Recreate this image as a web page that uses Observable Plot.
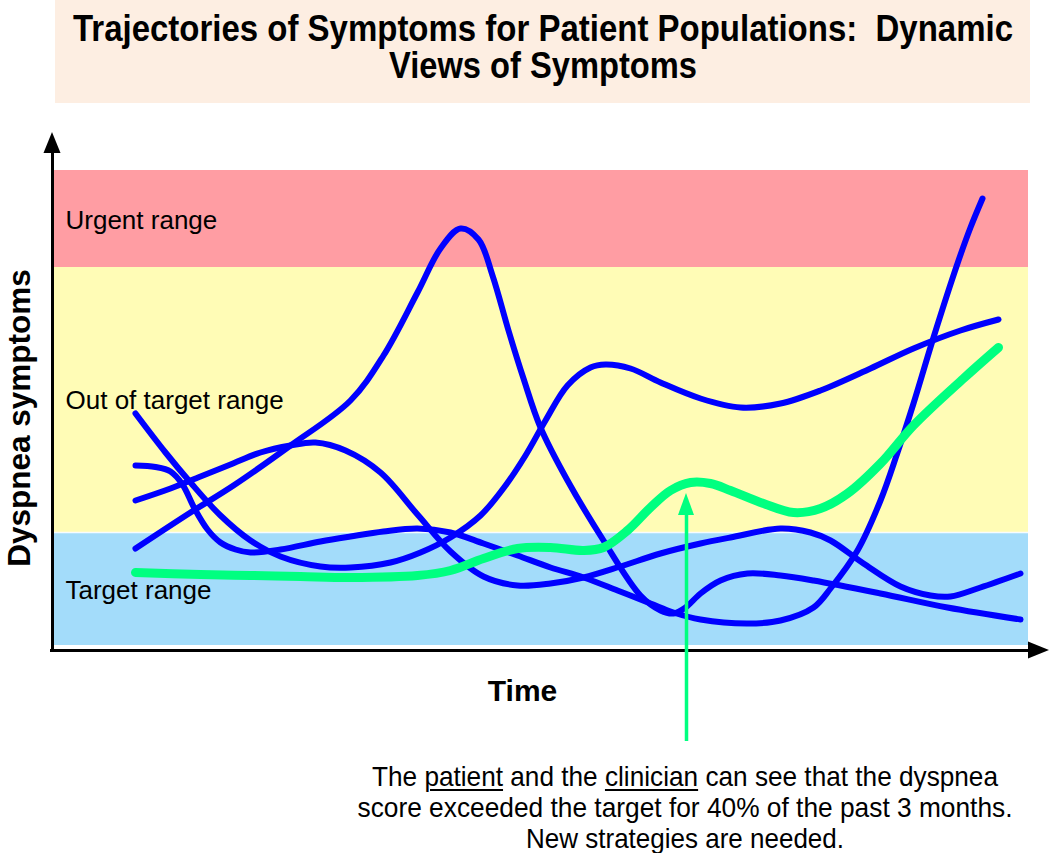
<!DOCTYPE html>
<html>
<head>
<meta charset="utf-8">
<script src="https://cdn.jsdelivr.net/npm/d3@7"></script>
<script src="https://cdn.jsdelivr.net/npm/@observablehq/plot@0.6"></script>
<style>
  html, body { margin: 0; padding: 0; background: #ffffff; }
  #wrap { position: relative; width: 1050px; height: 853px; overflow: hidden;
          font-family: "Liberation Sans", Arial, Helvetica, sans-serif; }
  #chart { position: absolute; left: 0; top: 0; }
  #titlebox { position: absolute; left: 55px; top: 0; width: 975px; height: 103px; background: #fdeee2; }
  .line { position: absolute; white-space: nowrap; display: inline-block; color: #000; }
  .title { font-weight: bold; font-size: 36px; line-height: 40px; }
  .cap { font-weight: normal; font-size: 28.5px; line-height: 32px; }
  u { text-decoration-thickness: 1.5px; text-underline-offset: 3px; }
</style>
</head>
<body>
<div id="wrap">
  <div id="chart"></div>
  <div id="titlebox"></div>
</div>
<script>
// ---------- data ----------
const titleLines = ["Trajectories of Symptoms for Patient Populations:\u00a0 Dynamic", "Views of Symptoms"];
const captionLines = [
  "The <u>patient</u> and the <u>clinician</u> can see that the dyspnea",
  "score exceeded the target for 40% of the past 3 months.",
  "New strategies are needed."
];

// symptom ranges (score units)
const bandName = ["Target range", "Out of target range", "Urgent range"];
const bandLow = [1, 23.6, 76.6];
const bandHigh = [23.6, 76.6, 96];
const bandFill = ["#a3dcfa", "#fffcb6", "#ff9da3"];
const bandLabelAt = [12, 50, 86];
const bandStart = 0.2, bandEnd = 97.6, bandLabelT = 1.3;

// axis extents
const axisTimeEnd = 97.6;
const axisScoreEnd = 99.4;

// blue patient trajectories: time, score
const aT = [8.3, 11.3, 13.8, 16.8, 19.8, 22.8, 26.8, 29.8, 33.8, 36.8, 39.8, 42.8, 45.3, 47.3, 49.3, 51.5, 53.8, 55.3, 57.8, 60.8, 64.8, 68.8, 72.8, 76.8, 81.8, 86.1, 90.8, 94.6];
const aV = [47.4, 39.6, 33.6, 27, 22, 18.8, 16.8, 16.6, 17.6, 19.6, 22.6, 27, 33, 39, 46, 53, 56.6, 57.2, 56.4, 53.6, 50.4, 48.6, 49.4, 52, 56.4, 60.4, 64, 66.2];

const pT = [8.3, 13.8, 18.1, 23.8, 29.8, 33.1, 36.5, 38.8, 40.8, 42.6, 44.0, 45.6, 47.1, 48.8, 51.5, 55.1, 58.8, 60.8, 62.1, 63.3, 64.8, 66.8, 69.5, 72.8, 76.1, 82.8, 89.5, 96.8];
const pV = [20.4, 27.6, 33, 41, 50, 59, 71.6, 80.4, 84.4, 82.2, 75, 64, 54.4, 44.6, 34, 22, 11, 8, 7.4, 8.6, 11.4, 14, 15.4, 15, 14, 11.4, 8.6, 6.2];

const bT = [8.3, 10.3, 11.8, 13.0, 14.2, 15.5, 16.8, 18.3, 19.8, 22.8, 26.8, 29.8, 33.1, 36.5, 39.8, 43.1, 46.5, 49.8, 53.1, 56.5, 59.8, 62.1, 64.8, 69.5, 72.8, 76.1, 77.8, 80.5, 82.8, 84.5, 86.1, 88.1, 90.5, 91.8, 93];
const bV = [37, 36.7, 35.8, 33.2, 28.4, 24.2, 21.6, 20.2, 19.6, 20.2, 21.8, 22.8, 23.8, 24.4, 23.6, 21.4, 19, 16.6, 14.6, 12, 9.4, 7.6, 6.2, 5.4, 6, 8.6, 12.4, 20, 30, 39.6, 49.4, 62.6, 77.4, 84.6, 90.4];

const cT = [8.3, 11.8, 14.8, 17.8, 20.8, 23.8, 26.3, 29.3, 32.8, 36.5, 39.8, 43.1, 46.5, 49.8, 53.1, 56.8, 60.8, 64.8, 67.8, 72.8, 75.8, 77.8, 81.1, 84.8, 87.8, 89.8, 92.8, 96.8];
const cV = [30, 32.4, 34.8, 37.2, 39.6, 41, 41.6, 40, 35.6, 27.2, 19.8, 14.8, 13, 13.4, 14.6, 16.8, 19.4, 21.4, 22.6, 24.4, 23.6, 22, 17.4, 12.8, 11, 10.8, 12.6, 15.4];

// green highlighted patient
const gT = [8.3, 14.8, 19.8, 24.8, 29.8, 36.5, 39.8, 43.1, 46.5, 49.8, 53.1, 55.1, 57.5, 59.8, 61.8, 63.8, 65.8, 67.8, 71.1, 74.1, 76.8, 79.5, 82.8, 86.1, 91.1, 94.6];
const gV = [15.6, 15.2, 15, 14.8, 14.6, 15, 16, 18.4, 20.4, 20.6, 20, 20.6, 24, 28.6, 32, 33.6, 33.4, 32, 29.4, 27.6, 28.4, 31.4, 37.4, 45, 54.4, 60.6];

// annotation arrow (time, score from bottom to arrowhead base)
const noteT = 63.4, noteFrom = -18.2, noteTo = 27;

// axis labels
const yLabel = "Dyspnea symptoms", yLabelT = -3.3, yLabelV = 46.5;
const xLabel = "Time", xLabelT = 47, xLabelV = -8.2;

// ---------- tables ----------
const bands = bandName.map((n, i) => ({name: n, low: bandLow[i], high: bandHigh[i], fill: bandFill[i], at: bandLabelAt[i], t1: bandStart, t2: bandEnd, lt: bandLabelT}));
const mk = (id, T, V) => T.map((t, i) => ({id, t, v: V[i]}));
const blue = [...mk("a", aT, aV), ...mk("p", pT, pV), ...mk("b", bT, bV), ...mk("c", cT, cV)];
const green = mk("g", gT, gV);

const BLUE = "#0000ff", GREEN = "#00ff80";

function head(pt, dir, len, half, color) {
  return (index, scales) => {
    const x = scales.x(pt.t), y = scales.y(pt.v);
    const d = dir === "up"
      ? `M${x - half},${y}L${x},${y - len}L${x + half},${y}Z`
      : `M${x},${y - half}L${x + len},${y}L${x},${y + half}Z`;
    return d3.create("svg:path").attr("d", d).attr("fill", color).node();
  };
}

const chart = Plot.plot({
  width: 1050,
  height: 853,
  marginTop: 0, marginRight: 0, marginBottom: 0, marginLeft: 0,
  x: {domain: [0, 100], range: [52, 1052], axis: null},
  y: {domain: [0, 100], range: [650, 150], axis: null},
  color: {type: "identity"},
  style: {fontFamily: "'Liberation Sans', Arial, sans-serif", background: "transparent", overflow: "visible"},
  marks: [
    Plot.rect(bands, {x1: "t1", x2: "t2", y1: "low", y2: "high", fill: "fill"}),
    Plot.ruleY([bandHigh[0]], {x1: bandStart, x2: bandEnd, stroke: "#ffffff", strokeWidth: 1.5, strokeOpacity: 0.9}),
    Plot.text(bands, {x: "lt", y: "at", text: "name", textAnchor: "start", fontSize: 26, fill: "#000"}),
    Plot.ruleX([0], {y1: -0.4, y2: axisScoreEnd, stroke: "#000", strokeWidth: 3}),
    Plot.ruleY([0], {x1: -0.2, x2: axisTimeEnd, stroke: "#000", strokeWidth: 3}),
    head({t: 0, v: axisScoreEnd}, "up", 21, 8.5, "#000"),
    head({t: axisTimeEnd, v: 0}, "right", 21, 8.5, "#000"),
    Plot.line(blue, {x: "t", y: "v", z: "id", stroke: BLUE, strokeWidth: 6, curve: "catmull-rom", strokeLinecap: "round", strokeLinejoin: "round"}),
    Plot.line(green, {x: "t", y: "v", z: "id", stroke: GREEN, strokeWidth: 9, curve: "catmull-rom", strokeLinecap: "round", strokeLinejoin: "round"}),
    Plot.ruleX([noteT], {y1: noteFrom, y2: noteTo, stroke: GREEN, strokeWidth: 3.5}),
    head({t: noteT, v: noteTo}, "up", 22, 8, GREEN),
    Plot.text([yLabel], {x: yLabelT, y: yLabelV, text: d => d, rotate: -90, fontSize: 31.5, fontWeight: "bold", fill: "#000"}),
    Plot.text([xLabel], {x: xLabelT, y: xLabelV, text: d => d, fontSize: 30, fontWeight: "bold", fill: "#000"})
  ]
});
document.getElementById("chart").appendChild(chart);

// ---------- title & caption (HTML text, fitted to reference widths) ----------
const wrap = document.getElementById("wrap");
function placeLine(html, cls, cx, cy, targetW, lh) {
  const s = document.createElement("span");
  s.className = "line " + cls;
  s.innerHTML = html;
  s.style.left = cx + "px";
  s.style.top = (cy - lh / 2) + "px";
  wrap.appendChild(s);
  const w = s.getBoundingClientRect().width;
  s.style.transform = `translateX(-50%) scaleX(${targetW / w})`;
}
const titleWidths = [940, 308];
const titleCy = [28.5, 66];
titleLines.forEach((l, i) => placeLine(l, "title", 542.5, titleCy[i], titleWidths[i], 40));
const capWidths = [626, 655, 318];
const capCy = [776, 807, 838];
captionLines.forEach((l, i) => placeLine(l, "cap", 685, capCy[i], capWidths[i], 32));
</script>
</body>
</html>
